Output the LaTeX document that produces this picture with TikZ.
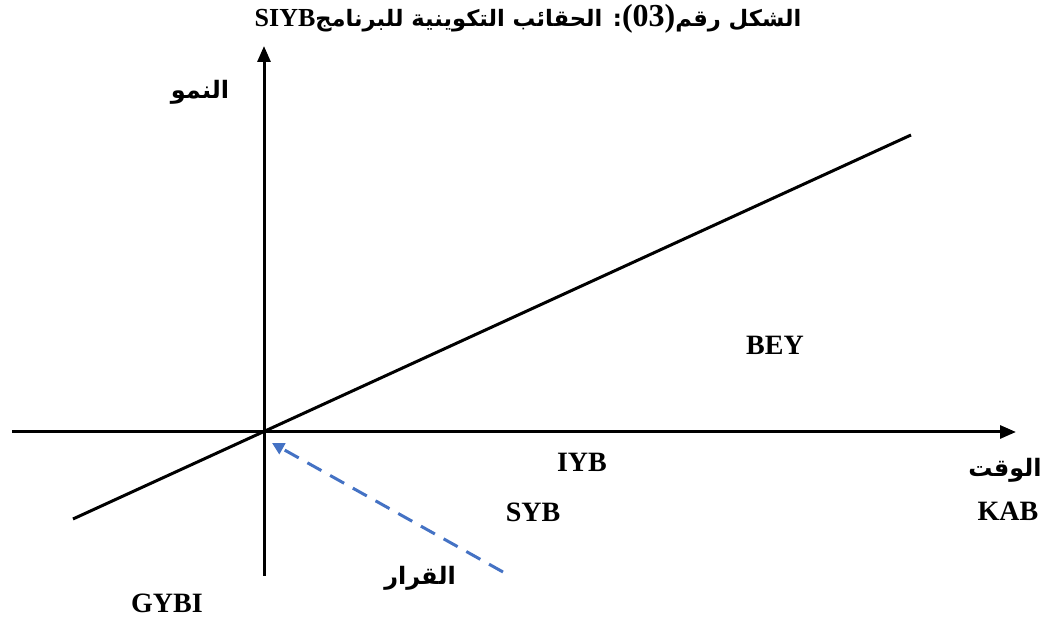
\documentclass[tikz,border=0pt]{standalone}
\usepackage{fontspec}
\usepackage{xcolor}
\setmainfont{Liberation Serif}
\newfontfamily\arabicfont[Script=Arabic]{DejaVu Sans}
\TeXXeTstate=1
\usetikzlibrary{arrows.meta}
\definecolor{decblue}{RGB}{68,114,196}

\begin{document}
\begin{tikzpicture}[x=0.5pt, y=-0.5pt,
  lat/.style={font=\fontsize{14}{16}\selectfont\bfseries},
  arb/.style={font=\arabicfont\fontsize{12}{14}\selectfont\bfseries},
  axis/.style={line width=1.5pt, -{Triangle[length=8pt,width=6.5pt]}},
  trend/.style={line width=1.5pt},
  decision/.style={line width=1.5pt, decblue, dash pattern=on 8pt off 5pt,
                   -{Triangle[length=6pt,width=6pt]}}]
\useasboundingbox (0,0) rectangle (1046,619);
% axes
\coordinate (o) at (264,432);
\coordinate (xl) at (12,432);
\coordinate (xr) at (1016,432);
\coordinate (yb) at (264,576);
\coordinate (yt) at (264,46);
\draw[axis] (xl) -- (xr);
\draw[axis] (yb) -- (yt);
% growth line and decision arrow
\coordinate (tl) at (73,519);
\coordinate (tr) at (911,135);
\draw[trend] (tl) -- (tr);
\coordinate (ds) at (503,572);
\coordinate (de) at (272,443);
\draw[decision] (ds) -- (de);
% labels
\node[arb, font=\arabicfont\fontsize{11.3}{14}\selectfont\bfseries] (title) at (528,19) {\beginR الشكل رقم\beginL{\rmfamily\fontsize{16}{18}\selectfont(03)}\endL: الحقائب التكوينية للبرنامج\beginL{\rmfamily\fontsize{13}{15}\selectfont SIYB}\endL\endR};
\node[arb] (grow) at (200,92) {\beginR النمو\endR};
\node[arb] (time) at (1005,470) {\beginR الوقت\endR};
\node[arb] (dec) at (420,578) {\beginR القرار\endR};
\node[lat] (bey) at (775,345) {BEY};
\node[lat] (iyb) at (582,462) {IYB};
\node[lat] (syb) at (533,512) {SYB};
\node[lat] (kab) at (1008,511) {KAB};
\node[lat] (gybi) at (167,603) {GYBI};
\end{tikzpicture}
\end{document}
